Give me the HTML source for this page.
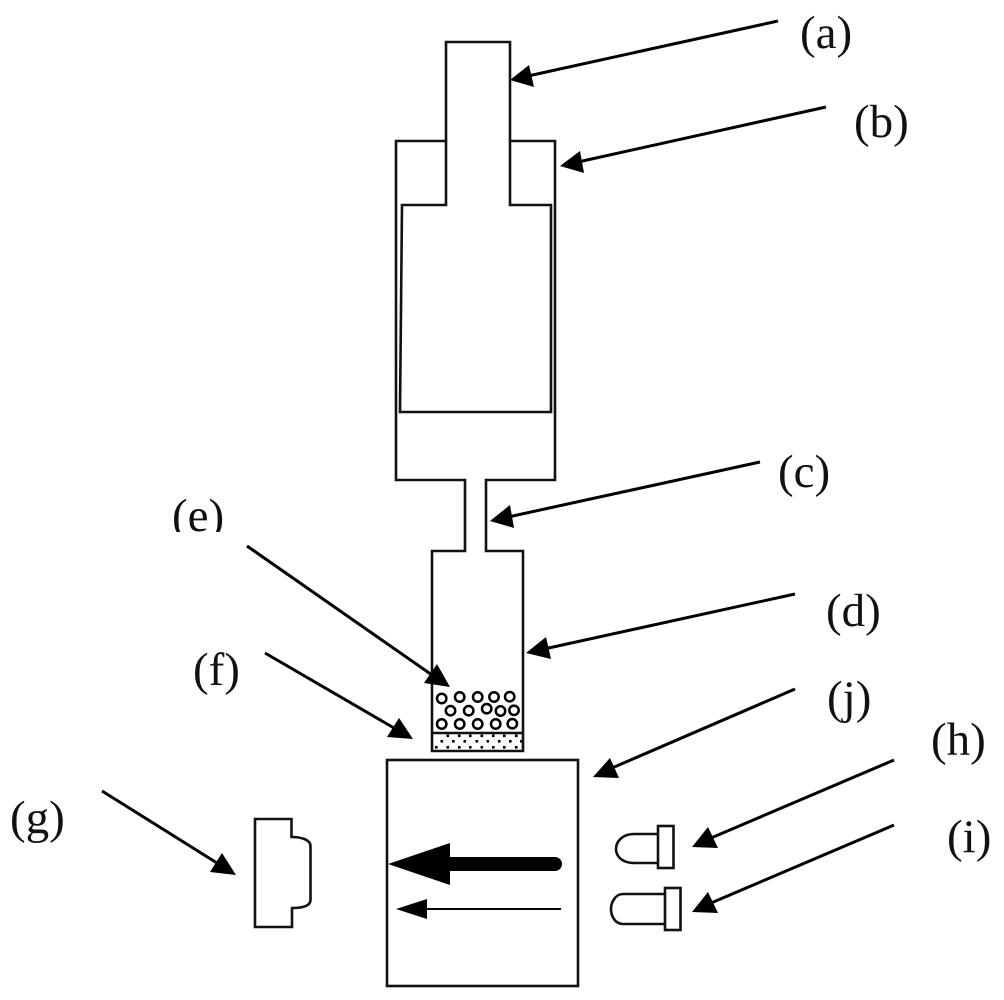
<!DOCTYPE html>
<html>
<head>
<meta charset="utf-8">
<style>
html,body{margin:0;padding:0;background:#fff;width:1004px;height:1000px;overflow:hidden}
svg{display:block}
text{font-family:"Liberation Serif",serif;font-size:47px;fill:#111}
.s{fill:none;stroke:#111;stroke-width:2.6;stroke-linejoin:miter}
.l{stroke:#000;stroke-width:3;fill:none;stroke-linecap:butt}
</style>
</head>
<body>
<svg width="1004" height="1000" viewBox="0 0 1004 1000" xmlns="http://www.w3.org/2000/svg">
<!-- syringe outer -->
<path class="s" d="M446 141H396V480H465V551H432V751H523V551H486V480H555V141H510V42H446Z"/>
<path class="s" d="M446 141V205H402L400 412H551V205H510V141"/>
<!-- bed -->
<line x1="432" y1="733" x2="523" y2="733" stroke="#111" stroke-width="2.6"/>
<g fill="none" stroke="#000" stroke-width="2.5">
<circle cx="441.7" cy="698.5" r="4.7"/><circle cx="459.7" cy="697" r="4.7"/><circle cx="477.7" cy="697" r="4.7"/><circle cx="494" cy="697" r="4.7"/><circle cx="509.7" cy="696.7" r="4.7"/>
<circle cx="450.5" cy="710.7" r="4.7"/><circle cx="468.7" cy="710.7" r="4.7"/><circle cx="486.7" cy="708.7" r="4.7"/><circle cx="500.5" cy="711" r="4.7"/><circle cx="514" cy="710.3" r="4.7"/>
<circle cx="441.7" cy="724" r="4.7"/><circle cx="459.7" cy="724" r="4.7"/><circle cx="477.7" cy="724" r="4.7"/><circle cx="495.7" cy="724" r="4.7"/><circle cx="512.3" cy="723.7" r="4.7"/>
</g>
<g fill="#000">
<rect x="446.5" y="734.5" width="2.6" height="2.6"/><rect x="458" y="734.5" width="2.6" height="2.6"/><rect x="469" y="734.5" width="2.6" height="2.6"/><rect x="480.5" y="734.5" width="2.6" height="2.6"/><rect x="492" y="734.5" width="2.6" height="2.6"/><rect x="503" y="734.5" width="2.6" height="2.6"/><rect x="515" y="734.5" width="2.6" height="2.6"/>
<rect x="440.5" y="740" width="2.6" height="2.6"/><rect x="452" y="740" width="2.6" height="2.6"/><rect x="463.5" y="740" width="2.6" height="2.6"/><rect x="475.5" y="740" width="2.6" height="2.6"/><rect x="486.5" y="740" width="2.6" height="2.6"/><rect x="498" y="740" width="2.6" height="2.6"/><rect x="509" y="740" width="2.6" height="2.6"/><rect x="520" y="740" width="2.6" height="2.6"/>
<rect x="435" y="746" width="2.6" height="2.6"/><rect x="446.5" y="746" width="2.6" height="2.6"/><rect x="458" y="746" width="2.6" height="2.6"/><rect x="469" y="746" width="2.6" height="2.6"/><rect x="480.5" y="746" width="2.6" height="2.6"/><rect x="492" y="746" width="2.6" height="2.6"/><rect x="503" y="746" width="2.6" height="2.6"/><rect x="515" y="746" width="2.6" height="2.6"/>
</g>
<!-- cell -->
<rect class="s" x="387" y="760" width="191" height="226"/>
<path fill="#000" d="M388 864L450 843V857H555A7 7 0 0 1 555 871H450V885Z"/>
<path fill="#000" d="M396 909L427 899V908H561V910H427V919Z"/>
<!-- detector g -->
<path class="s" d="M255 819H291.5V837C302 837 310.5 840 310.5 846V900C310.5 906 302 908 292 908V927H255Z"/>
<!-- LEDs -->
<path class="s" d="M658 834H634C622 834 616 842 616 849C616 857 623 863 634 863H658"/>
<rect class="s" x="658" y="826" width="15.5" height="42"/>
<path class="s" d="M665 894H623C615 894 611 903 611 909C611 916 615 924 623 924H665"/>
<rect class="s" x="665" y="888" width="15.5" height="42"/>
<!-- leader lines -->
<line class="l" x1="778" y1="21" x2="528" y2="76"/><path fill="#000" d="M510 80L529 65L534 87Z"/>
<line class="l" x1="826" y1="107" x2="578" y2="162"/><path fill="#000" d="M560 166L580 151L584 173Z"/>
<line class="l" x1="760" y1="462" x2="508" y2="517"/><path fill="#000" d="M490 521L510 505L514 528Z"/>
<line class="l" x1="795" y1="594" x2="544" y2="649"/><path fill="#000" d="M526 653L546 637L551 659Z"/>
<line class="l" x1="247" y1="546" x2="432" y2="675"/><path fill="#000" d="M450 687L424 683L437 664Z"/>
<line class="l" x1="265" y1="653" x2="394" y2="728"/><path fill="#000" d="M413 739L387 737L399 718Z"/>
<line class="l" x1="102" y1="791" x2="217" y2="863"/><path fill="#000" d="M236 875L210 872L222 853Z"/>
<line class="l" x1="795" y1="689" x2="612" y2="768"/><path fill="#000" d="M593 777L610 758L619 778Z"/>
<line class="l" x1="894" y1="760" x2="711" y2="838"/><path fill="#000" d="M692 847L708 827L718 848Z"/>
<line class="l" x1="894" y1="825" x2="711" y2="903"/><path fill="#000" d="M692 912L708 892L718 913Z"/>
<!-- labels -->
<text x="800" y="48">(a)</text>
<text x="854" y="137">(b)</text>
<text x="778" y="487">(c)</text>
<text x="172" y="531">(e)</text>
<rect x="160" y="532" width="70" height="20" fill="#fff"/>
<text x="826" y="626">(d)</text>
<text x="193" y="685">(f)</text>
<text x="827" y="713">(j)</text>
<text x="931" y="755">(h)</text>
<text x="10" y="833">(g)</text>
<text x="947" y="852">(i)</text>
</svg>
</body>
</html>
